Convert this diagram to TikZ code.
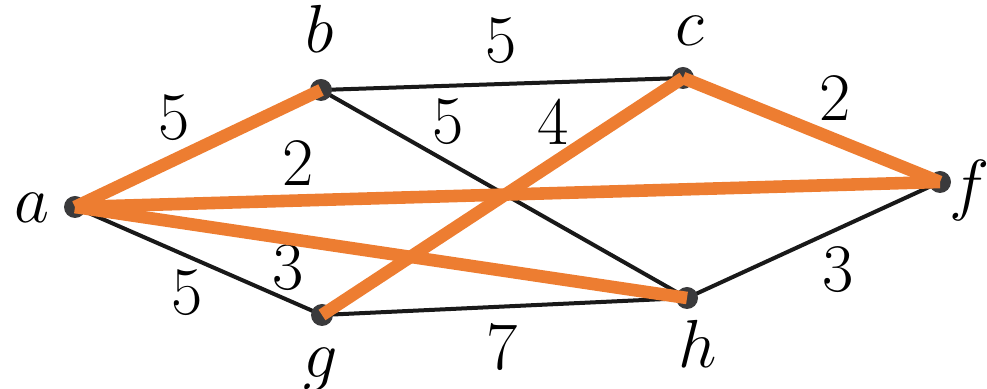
\RequirePackage{fix-cm}
\documentclass[tikz,border=0pt]{standalone}
\usetikzlibrary{backgrounds}
\definecolor{treeC}{HTML}{ED7D31}
\definecolor{dotC}{HTML}{3A3A3C}
\newcommand\bigtxt{\fontsize{34}{40}\selectfont}
\tikzset{
  vtx/.style={circle, fill=dotC, inner sep=0pt, minimum size=11pt},
  vlab/.style={font=\bigtxt, inner sep=0pt, anchor=base},
  wt/.style={font=\bigtxt, inner sep=0pt},
  edg/.style={line width=2pt, draw=black!90},
  tree/.style={line width=6.3pt, draw=treeC},
}

\begin{document}
\begin{tikzpicture}[x=0.5pt, y=-0.5pt]
\useasboundingbox (0,0) rectangle (987,389);
% vertices
\node[vtx] (a) at (75,207) {};
\node[vtx] (b) at (321,90) {};
\node[vtx] (c) at (683,78) {};
\node[vtx] (f) at (940,182) {};
\node[vtx] (g) at (322,315) {};
\node[vtx] (h) at (687,298) {};
\node[vlab] (la) at (32,223) {$a$};
\node[vlab] (lb) at (320,53) {$b$};
\node[vlab] (lc) at (690,46) {$c$};
\node[vlab] (lf) at (970,208) {$f$};
\node[vlab] (lg) at (321,378) {$g$};
\node[vlab] (lh) at (698,368) {$h$};
% edges
\begin{scope}[on background layer]
\foreach \u/\v in {a/b, b/c, c/f, a/f, a/g, a/h, g/h, h/f, b/h, g/c}
  \draw[edg] (\u.center) -- (\v.center);
\end{scope}
% weights
\node[wt] (wab) at (174,118) {5};
\node[wt] (wbc) at (501,41) {5};
\node[wt] (wcf) at (835,98) {2};
\node[wt] (waf) at (298,163) {2};
\node[wt] (wbh) at (448,122) {5};
\node[wt] (wgc) at (553,122) {4};
\node[wt] (wah) at (288,268) {3};
\node[wt] (wag) at (187,293) {5};
\node[wt] (wgh) at (502,347) {7};
\node[wt] (whf) at (838,270) {3};
% spanning tree
\foreach \u/\v in {a/b, a/f, a/h, c/f, g/c}
  \draw[tree] (\u.center) -- (\v.center);
\end{tikzpicture}
\end{document}
